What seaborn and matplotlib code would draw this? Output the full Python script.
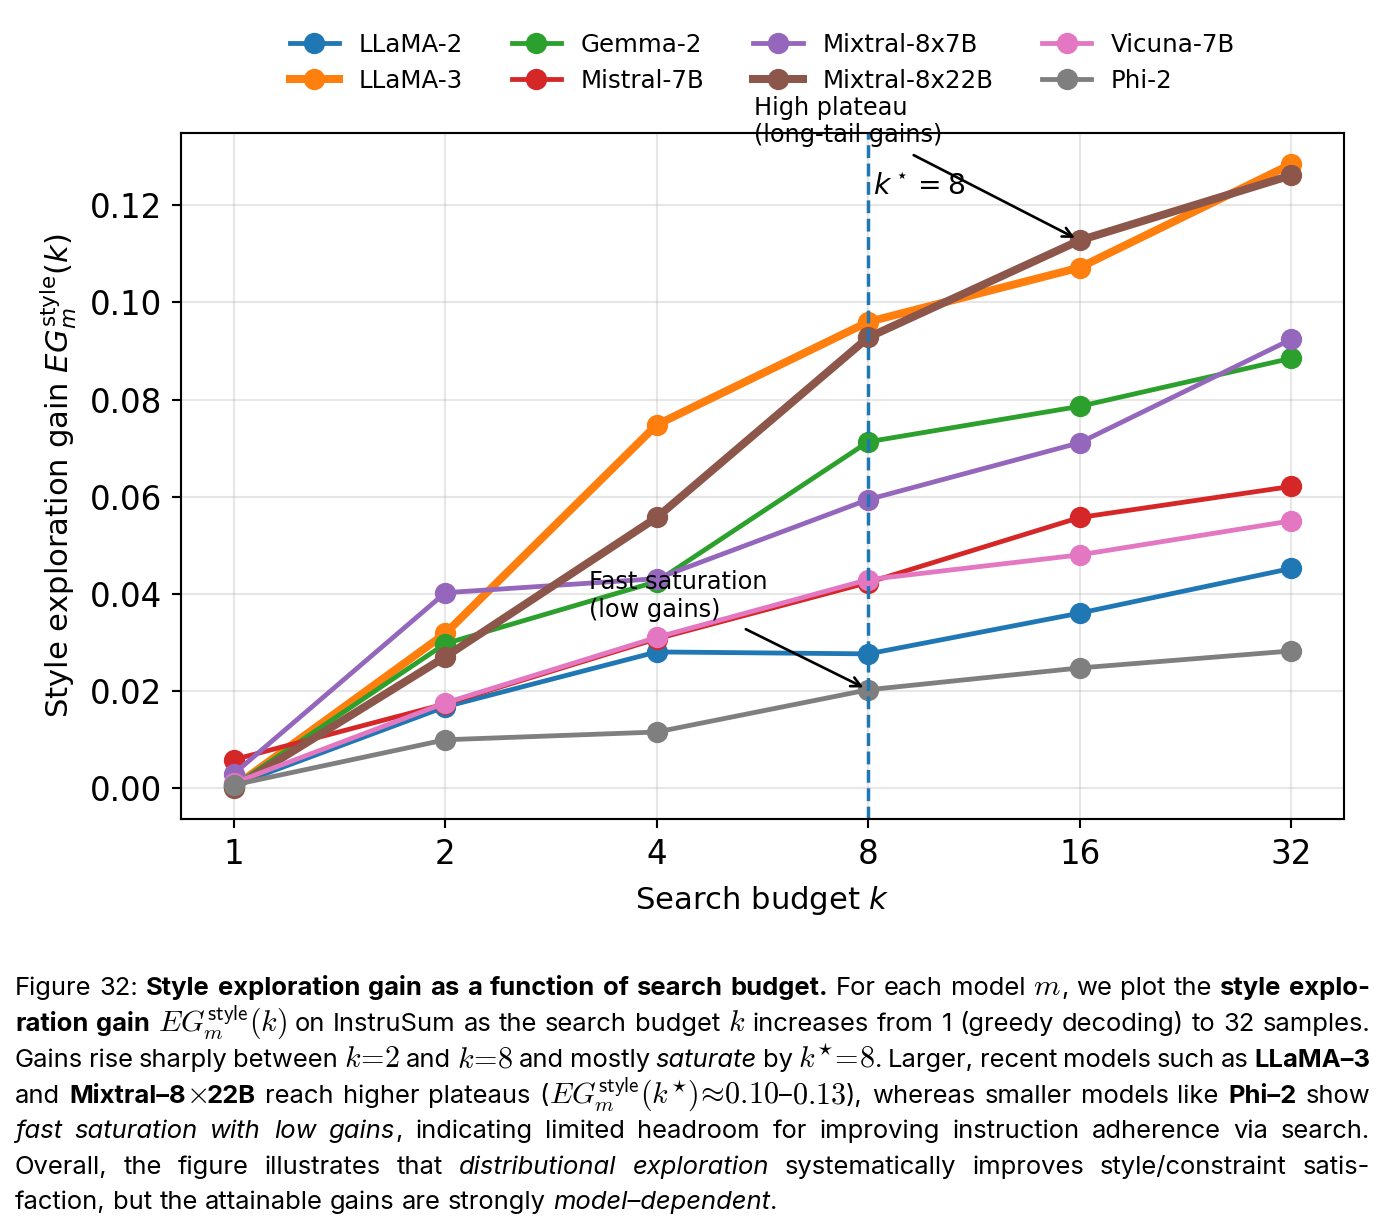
import matplotlib
matplotlib.use("Agg")
import pandas as pd
import matplotlib.pyplot as plt
import seaborn as sns
from matplotlib.ticker import FixedLocator, FixedFormatter, NullLocator, FormatStrFormatter

# dados
budgets = [1, 2, 4, 8, 16, 32]
modelos = ["LLaMA-2", "LLaMA-3", "Gemma-2", "Mistral-7B",
           "Mixtral-8x7B", "Mixtral-8x22B", "Vicuna-7B", "Phi-2"]
llama2 = [0.0005, 0.0167, 0.0280, 0.0276, 0.0360, 0.0452]
llama3 = [0.0002, 0.0318, 0.0748, 0.0960, 0.1072, 0.1285]
gemma2 = [0.0004, 0.0297, 0.0425, 0.0713, 0.0786, 0.0885]
mistral7b = [0.0058, 0.0173, 0.0307, 0.0423, 0.0557, 0.0621]
mixtral8x7b = [0.0029, 0.0402, 0.0431, 0.0594, 0.0711, 0.0924]
mixtral8x22b = [0.0000, 0.0270, 0.0557, 0.0928, 0.1128, 0.1262]
vicuna7b = [0.0010, 0.0175, 0.0310, 0.0429, 0.0480, 0.0550]
phi2 = [0.0006, 0.0099, 0.0115, 0.0202, 0.0247, 0.0282]
destaque = ["LLaMA-3", "Mixtral-8x22B"]
k_estrela = 8
yticks = [0.00, 0.02, 0.04, 0.06, 0.08, 0.10, 0.12]

ganhos = [llama2, llama3, gemma2, mistral7b, mixtral8x7b, mixtral8x22b, vicuna7b, phi2]
linhas = []
for modelo, valores in zip(modelos, ganhos):
    for k, g in zip(budgets, valores):
        linhas.append({"Modelo": modelo, "k": k, "Ganho": g})
df = pd.DataFrame(linhas)

W, H, DPI = 1387, 1231, 192
fig = plt.figure(figsize=(W / DPI, H / DPI), dpi=DPI)
ax = fig.add_axes([181 / W, 1 - 819 / H, (1344 - 181) / W, (819 - 133) / H])

cores = sns.color_palette("tab10", 8)
for modelo, cor in zip(modelos, cores):
    sub = df[df["Modelo"] == modelo]
    lw = 3.0 if modelo in destaque else 1.8
    sns.lineplot(data=sub, x="k", y="Ganho", ax=ax, color=cor, lw=lw,
                 marker="o", markersize=7, markeredgecolor=cor,
                 markeredgewidth=1, label=modelo)

ax.set_xscale("log", base=2)
ax.xaxis.set_major_locator(FixedLocator(budgets))
ax.xaxis.set_major_formatter(FixedFormatter([str(b) for b in budgets]))
ax.xaxis.set_minor_locator(NullLocator())
ax.set_yticks(yticks)
ax.yaxis.set_major_formatter(FormatStrFormatter("%.2f"))
ax.tick_params(labelsize=12.2)
ax.grid(True, alpha=0.3)
ax.set_xlabel(r"Search budget $k$", fontsize=11.5, labelpad=5)
ax.set_ylabel(r"Style exploration gain $EG_m^{\mathrm{style}}(k)$", fontsize=11.5)

ax.axvline(k_estrela, color="C0", linestyle="--", lw=1.3)
ax.text(k_estrela * 1.015, 0.124, r"$k^\star=8$", fontsize=10.6, va="center")

ax.annotate("High plateau\n(long-tail gains)", xy=(16, 0.1128), xytext=(5.5, 0.133),
            fontsize=9, arrowprops=dict(arrowstyle="->", color="black", lw=1.0))
ax.annotate("Fast saturation\n(low gains)", xy=(8, 0.0202), xytext=(3.2, 0.0353),
            fontsize=9, arrowprops=dict(arrowstyle="->", color="black", lw=1.0))

ax.legend(ncol=4, loc="lower center", bbox_to_anchor=(0.5, 1.026), frameon=False, fontsize=9.2)

# legenda da figura (texto justificado)
FAM = "Inter"
FS = 9.6
legenda = [
    [("Figure 32: ", "n"), ("Style exploration gain as a function of search budget.", "b"),
     (" For each model ", "n"), (r"$m$", "m"), (", we plot the ", "n"), ("style explo-", "b")],
    [("ration gain ", "b"), (r"$EG_m^{\mathsf{style}}(k)$", "m"),
     (" on InstruSum as the search budget ", "n"), (r"$k$", "m"),
     (" increases from 1 (greedy decoding) to 32 samples.", "n")],
    [("Gains rise sharply between ", "n"), (r"$k\!=\!2$", "m"), (" and ", "n"), (r"$k\!=\!8$", "m"),
     (" and mostly ", "n"), ("saturate", "i"), (" by ", "n"), (r"$k^{\star}\!=\!8$", "m"),
     (". Larger, recent models such as ", "n"), ("LLaMA–3", "b")],
    [("and ", "n"), ("Mixtral–8", "b"), (r"$\times$", "m"), ("22B", "b"),
     (" reach higher plateaus (", "n"), (r"$EG_m^{\mathsf{style}}(k^{\star})\!\approx\!0.10$", "m"),
     ("–", "n"), (r"$0.13$", "m"), ("), whereas smaller models like ", "n"),
     ("Phi–2", "b"), (" show", "n")],
    [("fast saturation with low gains", "i"),
     (", indicating limited headroom for improving instruction adherence via search.", "n")],
    [("Overall, the figure illustrates that ", "n"), ("distributional exploration", "i"),
     (" systematically improves style/constraint satis-", "n")],
    [("faction, but the attainable gains are strongly ", "n"), ("model–dependent", "i"), (".", "n")],
]
baselines = [995, 1031, 1067, 1103, 1138, 1174, 1209]
x0, x1 = 15, 1370

estilos = {"n": {}, "m": {}, "b": {"fontweight": "bold"}, "i": {"fontstyle": "italic"}}
fig.canvas.draw()
renderer = fig.canvas.get_renderer()


def texto(x, y, s, estilo):
    tam = FS * 1.18 if estilo == "m" else FS
    return fig.text(x / W, 1 - y / H, s, fontsize=tam, family=FAM, math_fontfamily="cm",
                    va="baseline", ha="left", **estilos[estilo])


def largura(s, estilo):
    t = texto(0, 0, s, estilo)
    w = t.get_window_extent(renderer).width
    t.remove()
    return w


def palavras(segmentos):
    ws = [[]]
    for s, estilo in segmentos:
        if estilo == "m":
            ws[-1].append((s, estilo))
            continue
        partes = s.split(" ")
        for i, p in enumerate(partes):
            if i > 0:
                ws.append([])
            if p:
                ws[-1].append((p, estilo))
    return [w for w in ws if w]


espaco = largura("a a", "n") - largura("aa", "n")
for n, (segmentos, yb) in enumerate(zip(legenda, baselines)):
    ws = palavras(segmentos)
    medidas = [[largura(s, e) for s, e in w] for w in ws]
    total = sum(sum(m) for m in medidas)
    if n < len(legenda) - 1:
        gap = (x1 - x0 - total) / (len(ws) - 1)
    else:
        gap = espaco
    x = x0
    for w, m in zip(ws, medidas):
        for (s, e), lw_ in zip(w, m):
            texto(x, yb, s, e)
            x += lw_
        x += gap

fig.savefig("out.png", dpi=DPI)
